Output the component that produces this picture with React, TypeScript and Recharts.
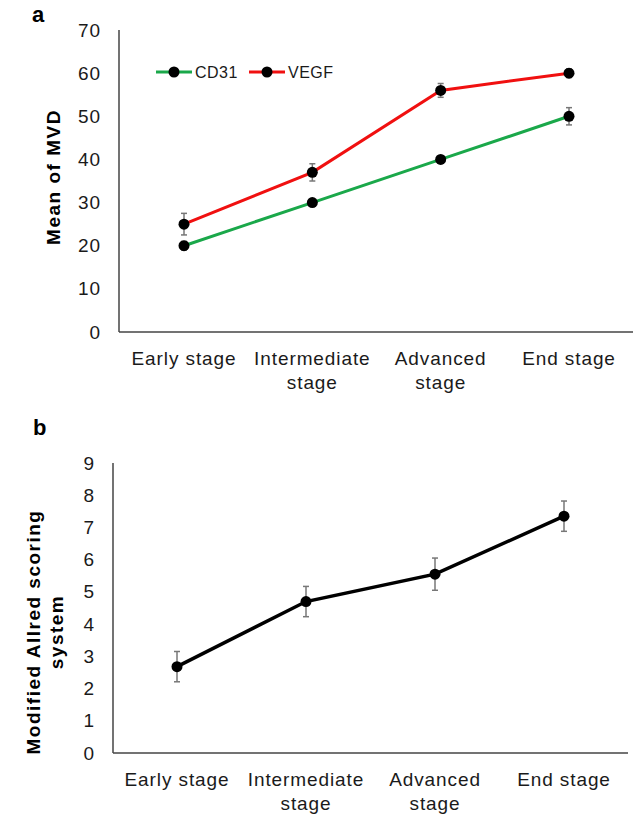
import React from 'react';
import { LineChart, Line, XAxis, YAxis, ErrorBar } from 'recharts';

const categories = ['Early stage', 'Intermediate stage', 'Advanced stage', 'End stage'];
const categoryLines = [['Early stage'], ['Intermediate', 'stage'], ['Advanced', 'stage'], ['End stage']];

const seriesNames = ['CD31', 'VEGF'];
const cd31 = [20, 30, 40, 50];
const cd31Err = [1, 0.8, 0.8, 2];
const vegf = [25, 37, 56, 60];
const vegfErr = [2.5, 2, 1.6, 1];

const allred = [2.68, 4.7, 5.55, 7.35];
const allredErr = [0.47, 0.47, 0.5, 0.47];

const mvdTicks = [0, 10, 20, 30, 40, 50, 60, 70];
const allredTicks = [0, 1, 2, 3, 4, 5, 6, 7, 8, 9];

const topData = categories.map((c, i) => ({
  stage: c,
  cd31: cd31[i],
  cd31Err: cd31Err[i],
  vegf: vegf[i],
  vegfErr: vegfErr[i],
}));
const bottomData = categories.map((c, i) => ({ stage: c, allred: allred[i], allredErr: allredErr[i] }));

const FONT = "Arial, 'Liberation Sans', sans-serif";
const TEXT = '#1a1a1a';
const AXIS = '#444';
const GREEN = '#1aa84a';
const RED = '#f01010';

const CatTick = (props: any) => {
  const { x, y, payload } = props;
  const idx = categories.indexOf(payload.value);
  const lines = idx >= 0 ? categoryLines[idx] : [String(payload.value)];
  return (
    <text x={x} y={y} textAnchor="middle" fill={TEXT} fontSize={19} fontFamily={FONT} letterSpacing={0.9}>
      {lines.map((l, i) => (
        <tspan key={i} x={x} dy={i === 0 ? 33 : 24}>
          {l}
        </tspan>
      ))}
    </text>
  );
};

const NumTick = (props: any) => {
  const { x, y, payload } = props;
  return (
    <text x={x} y={y} dy={6.5} textAnchor="end" fill={TEXT} fontSize={19} fontFamily={FONT} letterSpacing={0.9}>
      {payload.value}
    </text>
  );
};

export default function App() {
  return (
    <div style={{ position: 'absolute', left: 0, top: 0, width: 638, height: 826, background: '#fff', overflow: 'hidden' }}>
      <div style={{ position: 'absolute', left: 0, top: 0 }}>
        <LineChart width={638} height={410} data={topData} margin={{ top: 30, right: 5, bottom: 0, left: 0 }}>
          <XAxis
            dataKey="stage"
            height={78}
            padding={{ left: 65, right: 64 }}
            tickLine={false}
            tickSize={0}
            tickMargin={0}
            axisLine={{ stroke: AXIS, strokeWidth: 1.5 }}
            tick={<CatTick />}
            interval={0}
          />
          <YAxis
            width={119}
            domain={[0, 70]}
            ticks={mvdTicks}
            tickLine={false}
            tickSize={0}
            tickMargin={18}
            axisLine={{ stroke: AXIS, strokeWidth: 1.5 }}
            tick={<NumTick />}
            interval={0}
          />
          <Line
            dataKey="cd31"
            name={seriesNames[0]}
            stroke={GREEN}
            strokeWidth={3}
            dot={{ r: 5.5, fill: '#000', stroke: '#000', strokeWidth: 0 }}
            activeDot={false}
            isAnimationActive={false}
          >
            <ErrorBar dataKey="cd31Err" width={3} stroke="#777" strokeWidth={1.5} direction="y" />
          </Line>
          <Line
            dataKey="vegf"
            name={seriesNames[1]}
            stroke={RED}
            strokeWidth={3}
            dot={{ r: 5.5, fill: '#000', stroke: '#000', strokeWidth: 0 }}
            activeDot={false}
            isAnimationActive={false}
          >
            <ErrorBar dataKey="vegfErr" width={3} stroke="#777" strokeWidth={1.5} direction="y" />
          </Line>
        </LineChart>
      </div>
      <div style={{ position: 'absolute', left: 0, top: 430 }}>
        <LineChart width={638} height={396} data={bottomData} margin={{ top: 33, right: 10, bottom: 0, left: 0 }}>
          <XAxis
            dataKey="stage"
            height={73}
            padding={{ left: 64, right: 64 }}
            tickLine={false}
            tickSize={0}
            tickMargin={0}
            axisLine={{ stroke: AXIS, strokeWidth: 1.5 }}
            tick={<CatTick />}
            interval={0}
          />
          <YAxis
            width={113}
            domain={[0, 9]}
            ticks={allredTicks}
            tickLine={false}
            tickSize={0}
            tickMargin={18}
            axisLine={{ stroke: AXIS, strokeWidth: 1.5 }}
            tick={<NumTick />}
            interval={0}
          />
          <Line
            dataKey="allred"
            stroke="#000"
            strokeWidth={3.5}
            dot={{ r: 5.5, fill: '#000', stroke: '#000', strokeWidth: 0 }}
            activeDot={false}
            isAnimationActive={false}
          >
            <ErrorBar dataKey="allredErr" width={3} stroke="#777" strokeWidth={1.5} direction="y" />
          </Line>
        </LineChart>
      </div>
      <svg width={638} height={826} style={{ position: 'absolute', left: 0, top: 0, pointerEvents: 'none' }}>
        <g>
          <line x1={156} y1={72} x2={192} y2={72} stroke={GREEN} strokeWidth={3} />
          <circle cx={174} cy={72} r={5.5} fill="#000" />
          <text x={195} y={78} fontSize={16} fontFamily={FONT} fill={TEXT} letterSpacing={0.5}>
            {seriesNames[0]}
          </text>
          <line x1={249} y1={72} x2={285} y2={72} stroke={RED} strokeWidth={3} />
          <circle cx={267} cy={72} r={5.5} fill="#000" />
          <text x={288} y={78} fontSize={16} fontFamily={FONT} fill={TEXT} letterSpacing={0.5}>
            {seriesNames[1]}
          </text>
        </g>
        <text x={32} y={22} fontSize={22} fontWeight="bold" fontFamily={FONT} fill="#000">a</text>
        <text x={33} y={435} fontSize={22} fontWeight="bold" fontFamily={FONT} fill="#000">b</text>
        <text
          x={53}
          y={177}
          transform="rotate(-90, 53, 177)"
          textAnchor="middle"
          dominantBaseline="central"
          fontSize={19}
          fontWeight="bold"
          fontFamily={FONT}
          fill="#000"
          letterSpacing={1.5}
        >
          Mean of MVD
        </text>
        <text
          x={33}
          y={632}
          transform="rotate(-90, 33, 632)"
          textAnchor="middle"
          dominantBaseline="central"
          fontSize={19}
          fontWeight="bold"
          fontFamily={FONT}
          fill="#000"
          letterSpacing={1.5}
        >
          Modified Allred scoring
        </text>
        <text
          x={56}
          y={632}
          transform="rotate(-90, 56, 632)"
          textAnchor="middle"
          dominantBaseline="central"
          fontSize={19}
          fontWeight="bold"
          fontFamily={FONT}
          fill="#000"
          letterSpacing={1.5}
        >
          system
        </text>
      </svg>
    </div>
  );
}
